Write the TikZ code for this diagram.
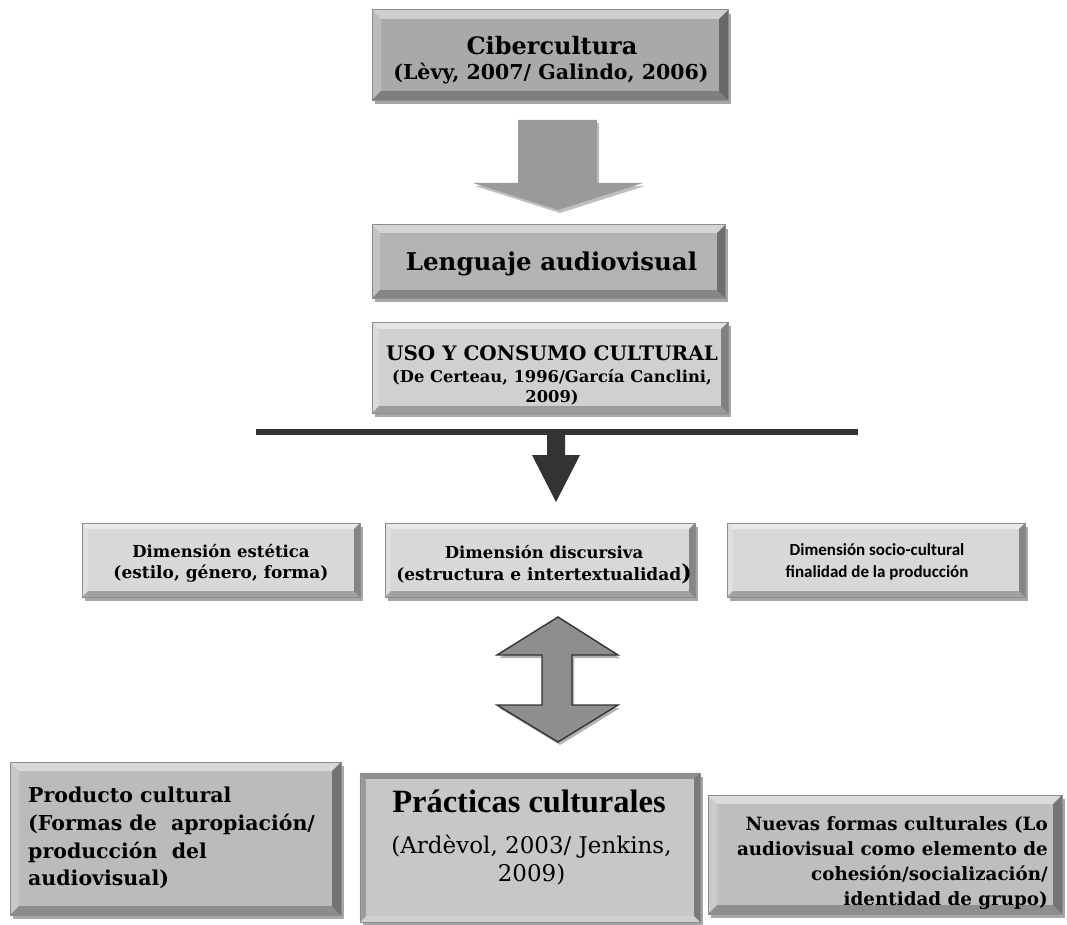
\documentclass[tikz,border=0pt]{standalone}
\usepackage{fontspec}
\setmainfont{DejaVu Serif}
\newfontfamily\timesf{Liberation Serif}
\newfontfamily\calf{Carlito}
\usetikzlibrary{shadows,calc}
\definecolor{cibc}{HTML}{A9A9A9}
\definecolor{lenc}{HTML}{B3B3B3}
\definecolor{usoc}{HTML}{D0D0D0}
\definecolor{dimc}{HTML}{D8D8D8}
\definecolor{p1c}{HTML}{BBBBBB}
\definecolor{p2c}{HTML}{C7C7C7}
\definecolor{p3c}{HTML}{BEBEBE}
\definecolor{arrc}{HTML}{9A9A9A}
\definecolor{darkc}{HTML}{333333}
\definecolor{darrc}{HTML}{8E8E8E}
\newcommand\bevelframe[2]{%
 \fill[white,opacity=.45] (#1.north west) -- (#1.north east) -- ([xshift=-#2,yshift=-#2]#1.north east) -- ([xshift=#2,yshift=-#2]#1.north west) -- cycle;
 \fill[white,opacity=.2] (#1.north west) -- ([xshift=#2,yshift=-#2]#1.north west) -- ([xshift=#2,yshift=#2]#1.south west) -- (#1.south west) -- cycle;
 \fill[black,opacity=.38] (#1.north east) -- (#1.south east) -- ([xshift=-#2,yshift=#2]#1.south east) -- ([xshift=-#2,yshift=-#2]#1.north east) -- cycle;
 \fill[black,opacity=.25] (#1.south west) -- (#1.south east) -- ([xshift=-#2,yshift=#2]#1.south east) -- ([xshift=#2,yshift=#2]#1.south west) -- cycle;
 \draw[black!45,line width=0.6pt] (#1.north west) rectangle (#1.south east);
}
\newcommand\insetframe[2]{%
 \fill[black,opacity=.28] (#1.north west) -- (#1.north east) -- ([xshift=-#2,yshift=-#2]#1.north east) -- ([xshift=#2,yshift=-#2]#1.north west) -- cycle;
 \fill[black,opacity=.22] (#1.north west) -- ([xshift=#2,yshift=-#2]#1.north west) -- ([xshift=#2,yshift=#2]#1.south west) -- (#1.south west) -- cycle;
 \fill[black,opacity=.38] (#1.north east) -- (#1.south east) -- ([xshift=-#2,yshift=#2]#1.south east) -- ([xshift=-#2,yshift=-#2]#1.north east) -- cycle;
 \fill[white,opacity=.15] (#1.south west) -- (#1.south east) -- ([xshift=-#2,yshift=#2]#1.south east) -- ([xshift=#2,yshift=#2]#1.south west) -- cycle;
 \draw[black!45,line width=0.6pt] (#1.north west) rectangle (#1.south east);
}
\tikzset{
 box/.style={rectangle, inner sep=0pt,
   drop shadow={shadow xshift=3pt, shadow yshift=-4pt, opacity=.35, fill=black}},
 txt/.style={inner sep=0pt, anchor=base},
}
\newcommand\bx[6]{% name, color, x1, y1, x2, y2
 \path let \p1=(#3,#4), \p2=(#5,#6) in
  node[box, fill=#2, minimum width=\x2-\x1, minimum height=\y1-\y2] (#1) at ($(\p1)!.5!(\p2)$) {};
}
\begin{document}
\begin{tikzpicture}[x=1pt,y=-1pt]
\useasboundingbox[fill=white] (0,0) rectangle (1067,925);

% top box
\bx{cib}{cibc}{372}{10}{728}{100}
\bevelframe{cib}{9pt}
\node[txt, font=\bfseries\fontsize{24}{28}\selectfont] (cib1) at (552,55) {Cibercultura};
\node[txt, font=\bfseries\fontsize{20.5}{24}\selectfont] (cib2) at (551,80) {(Lèvy, 2007/ Galindo, 2006)};

% gray arrow
\fill[arrc, drop shadow={shadow xshift=2pt, shadow yshift=-3pt, opacity=.25, fill=black}]
 (518,120) -- (597,120) -- (597,183) -- (643,183) -- (558,210) -- (473,183) -- (518,183) -- cycle;

\bx{len}{lenc}{372}{225}{725}{298}
\bevelframe{len}{8pt}
\node[txt, font=\bfseries\fontsize{24.5}{28}\selectfont] (len1) at (551.5,270) {Lenguaje audiovisual};

\bx{uso}{usoc}{372}{322}{728}{413}
\bevelframe{uso}{7pt}
\node[txt, font=\bfseries\fontsize{20}{24}\selectfont] (uso1) at (552,360) {USO Y CONSUMO CULTURAL};
\node[txt, font=\bfseries\fontsize{16.3}{20}\selectfont] (uso2) at (552,382) {(De Certeau, 1996/García Canclini,};
\node[txt, font=\bfseries\fontsize{16.3}{20}\selectfont] (uso3) at (552,402) {2009)};

% line and dark arrow
\coordinate (la) at (256,432);
\coordinate (lb) at (858,432);
\draw[darkc, line width=6pt, drop shadow={shadow xshift=2pt, shadow yshift=-3pt, opacity=.25}] (la) -- (lb);
\fill[darkc] (547,434) -- (565,434) -- (565,455) -- (580,455) -- (556,502) -- (532,455) -- (547,455) -- cycle;

% dimension boxes
\bx{d1}{dimc}{82}{523}{360}{597}
\bevelframe{d1}{6pt}
\node[txt, font=\bfseries\fontsize{16.5}{20}\selectfont] (d1a) at (221,557) {Dimensión estética};
\node[txt, font=\bfseries\fontsize{17}{20}\selectfont] (d1b) at (221,578) {(estilo, género, forma)};

\bx{d2}{dimc}{385}{523}{695}{597}
\bevelframe{d2}{6pt}
\node[txt, font=\bfseries\fontsize{16.5}{20}\selectfont] (d2a) at (544,558) {Dimensión discursiva};
\node[txt, font=\bfseries\fontsize{17}{20}\selectfont] (d2b) at (544,580) {(estructura e intertextualidad\fontsize{22}{20}\selectfont)};

\bx{d3}{dimc}{727}{523}{1025}{597}
\bevelframe{d3}{6pt}
\node[txt, font=\calf\bfseries\fontsize{17}{20}\selectfont] (d3a) at (877,555) {Dimensión socio-cultural};
\node[txt, font=\calf\bfseries\fontsize{17}{20}\selectfont] (d3b) at (877,577) {finalidad de la producción};

% double arrow
\filldraw[fill=darrc, draw=darkc, line width=1.4pt, line join=miter,
  drop shadow={shadow xshift=2pt, shadow yshift=-3pt, opacity=.3, fill=black}]
 (558,617) -- (618,655) -- (572,655) -- (572,705) -- (618,705) -- (558,742) -- (497,705) -- (542,705) -- (542,655) -- (497,655) -- cycle;

% bottom boxes
\bx{p1}{p1c}{10}{762}{341}{915}
\bevelframe{p1}{9pt}
\begin{scope}[every node/.style={txt, anchor=base west, font=\bfseries\fontsize{20.5}{24}\selectfont}]
\node (p1a) at (28,802) {Producto cultural};
\node (p1b) at (28,830) {(Formas de\ \ apropiación/};
\node (p1c) at (28,858) {producción\ \ del};
\node (p1d) at (28,885) {audiovisual)};
\end{scope}

\bx{p2}{p2c}{360}{773}{700}{922}
\insetframe{p2}{6pt}
\node[txt, font=\timesf\bfseries\fontsize{32.5}{36}\selectfont] (p2a) at (529,812) {Prácticas culturales};
\node[txt, font=\fontsize{23}{26}\selectfont] (p2b) at (531.5,853) {(Ardèvol, 2003/ Jenkins,};
\node[txt, font=\fontsize{23}{26}\selectfont] (p2c) at (531.5,881) {2009)};

\bx{p3}{p3c}{708}{795}{1062}{914}
\bevelframe{p3}{9pt}
\begin{scope}[every node/.style={txt, anchor=base east, font=\bfseries\fontsize{18.3}{22}\selectfont}]
\node (p3a) at (1048,830) {Nuevas formas culturales (Lo};
\node (p3b) at (1048,855) {audiovisual como elemento de};
\node (p3c) at (1048,880) {cohesión/socialización/};
\node (p3d) at (1048,905) {identidad de grupo)};
\end{scope}
\end{tikzpicture}
\end{document}
